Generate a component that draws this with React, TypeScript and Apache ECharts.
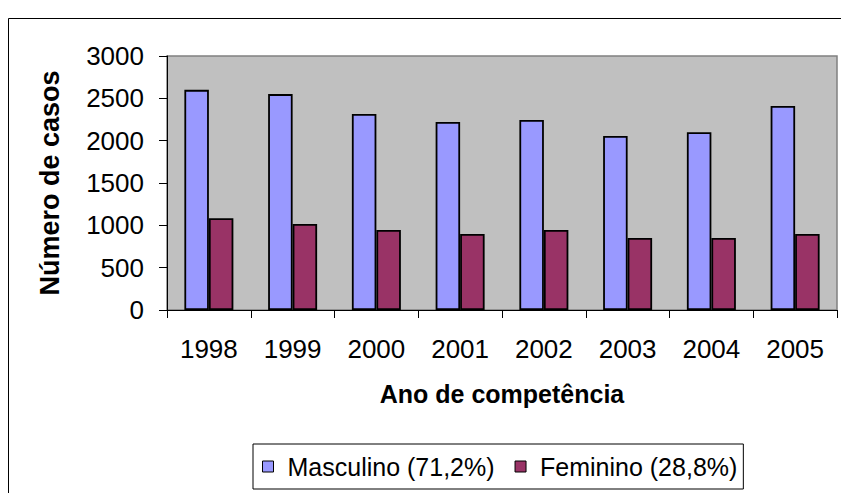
import React, { useEffect, useRef } from "react";
import * as echarts from "echarts";

const years = ["1998", "1999", "2000", "2001", "2002", "2003", "2004", "2005"];
const masculino = [2600, 2550, 2315, 2220, 2245, 2055, 2100, 2410];
const feminino = [1085, 1015, 945, 897, 945, 850, 850, 897];
const seriesNames = ["Masculino (71,2%)", "Feminino (28,8%)"];
const yTitle = "Número de casos";
const xTitle = "Ano de competência";

const FONT = "'Liberation Sans', Arial, sans-serif";

export default function App() {
  const ref = useRef<HTMLDivElement>(null);
  useEffect(() => {
    if (!ref.current) return;
    const chart = echarts.init(ref.current, undefined, { renderer: "svg" });
    chart.setOption({
      animation: false,
      backgroundColor: "#ffffff",
      textStyle: { fontFamily: FONT },
      graphic: [
        {
          type: "rect",
          shape: { x: 8.5, y: 18.5, width: 850, height: 500 },
          style: { fill: "none", stroke: "#000", lineWidth: 1 },
          z: 0,
          silent: true,
        },
      ],
      grid: {
        left: 167,
        right: 4,
        top: 56,
        bottom: 183,
        show: true,
        backgroundColor: "#C0C0C0",
        borderColor: "#808080",
        borderWidth: 1.5,
      },
      legend: {
        left: 253,
        top: 444,
        padding: [10, 6, 10, 9],
        borderColor: "#000",
        borderWidth: 1,
        borderRadius: 0,
        itemGap: 20,
        itemWidth: 11,
        itemHeight: 11,
        icon: "rect",
        itemStyle: { borderColor: "#000", borderWidth: 1 },
        textStyle: {
          fontFamily: FONT,
          fontSize: 25,
          color: "#000",
          padding: [0, 0, 0, 9],
        },
        data: seriesNames,
      },
      xAxis: {
        type: "category",
        data: years,
        name: xTitle,
        nameLocation: "middle",
        nameGap: 71,
        nameTextStyle: { fontFamily: FONT, fontSize: 25, fontWeight: "bold", color: "#000" },
        axisLine: { lineStyle: { color: "#000", width: 1 } },
        axisTick: { show: true, length: 8, lineStyle: { color: "#000" }, alignWithLabel: false },
        axisLabel: { fontFamily: FONT, fontSize: 26, color: "#000", margin: 26 },
        splitLine: { show: false },
      },
      yAxis: {
        type: "value",
        min: 0,
        max: 3000,
        interval: 500,
        name: yTitle,
        nameLocation: "middle",
        nameGap: 104,
        nameRotate: 90,
        nameTextStyle: { fontFamily: FONT, fontSize: 27, fontWeight: "bold", color: "#000" },
        axisLine: { show: true, lineStyle: { color: "#000", width: 1 } },
        axisTick: { show: true, length: 8, lineStyle: { color: "#000" } },
        axisLabel: {
          fontFamily: FONT,
          fontSize: 26,
          color: "#000",
          margin: 23,
          formatter: (v: number) => String(v),
        },
        splitLine: { show: false },
      },
      series: [
        {
          name: seriesNames[0],
          type: "bar",
          data: masculino,
          barGap: "0%",
          barCategoryGap: "41.5%",
          itemStyle: { color: "#9999FF", borderColor: "#000", borderWidth: 1.8 },
        },
        {
          name: seriesNames[1],
          type: "bar",
          data: feminino,
          barGap: "0%",
          barCategoryGap: "41.5%",
          itemStyle: { color: "#993366", borderColor: "#000", borderWidth: 1.8 },
        },
      ],
    });
    return () => chart.dispose();
  }, []);
  return (
    <div
      ref={ref}
      style={{ position: "fixed", left: 0, top: 0, width: 841, height: 493 }}
    />
  );
}
